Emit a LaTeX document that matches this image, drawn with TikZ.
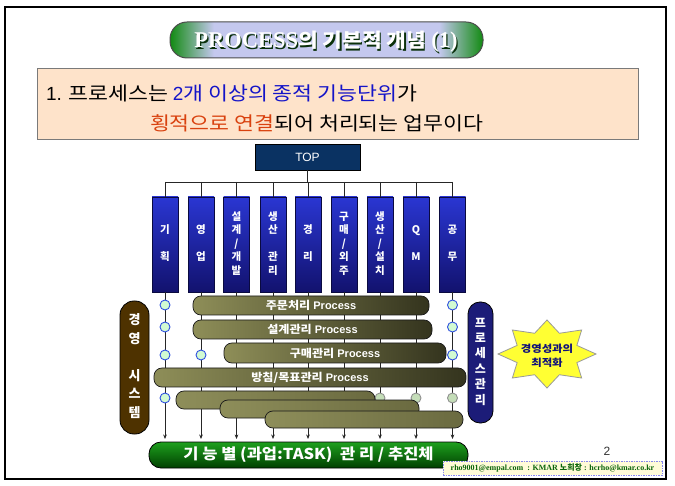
\documentclass[tikz,border=0pt]{standalone}
\usepackage{fontspec}
\usetikzlibrary{arrows.meta}
\setmainfont{Liberation Sans}
\newfontfamily\kr{Noto Sans CJK KR}
\newfontfamily\krw{Noto Sans CJK KR}[FakeStretch=1.14]
\newfontfamily\krs{Noto Sans CJK KR}[FakeStretch=1.1]
\newfontfamily\ar{Liberation Sans}
\newfontfamily\tm{Liberation Serif}
\definecolor{tgreen}{HTML}{128A12}
\definecolor{tlav}{HTML}{C4C8EE}
\definecolor{tshadow}{HTML}{0A300A}
\definecolor{peach}{HTML}{FEE3CA}
\definecolor{peachb}{HTML}{7A7A7A}
\definecolor{blueTxt}{HTML}{1414C8}
\definecolor{redTxt}{HTML}{D9420F}
\definecolor{topF}{HTML}{0A3262}
\definecolor{colT}{HTML}{2A36D2}
\definecolor{colD}{HTML}{12126E}
\definecolor{colB}{HTML}{0A0A40}
\definecolor{dotF}{HTML}{D2FAD2}
\definecolor{dotB}{HTML}{3050E0}
\definecolor{gdotF}{HTML}{C4DDB8}
\definecolor{gdotB}{HTML}{909090}
\definecolor{barL}{HTML}{8E8E58}
\definecolor{barD}{HTML}{34341E}
\definecolor{lowL}{HTML}{8E8E5A}
\definecolor{lowD}{HTML}{6A6A40}
\definecolor{sysD}{HTML}{4E3200}
\definecolor{sysM}{HTML}{B08A2E}
\definecolor{pmD}{HTML}{1C1C78}
\definecolor{pmM}{HTML}{7878E6}
\definecolor{starY}{HTML}{FFFF33}
\definecolor{starB}{HTML}{9A9A9A}
\definecolor{starT}{HTML}{10107A}
\definecolor{taskT}{HTML}{1EA01E}
\definecolor{taskM}{HTML}{007800}
\definecolor{taskD}{HTML}{004000}
\definecolor{footF}{HTML}{FFFBD8}
\definecolor{footB}{HTML}{8888EE}
\definecolor{footT}{HTML}{0A640A}
\pgfdeclarehorizontalshading{titleshade}{100bp}{color(0bp)=(tgreen); color(25bp)=(tgreen); color(32bp)=(tlav); color(68bp)=(tlav); color(75bp)=(tgreen); color(100bp)=(tgreen)}
\newcommand\vtxt[5]{\strut#1\\\strut#2\\\strut#3\\\strut#4\\\strut#5}
\newcommand\titletext{{\tm\bfseries\fontsize{22.5}{24}\selectfont PROCESS}{\krs\bfseries\fontsize{19.5}{24}\selectfont 의 기본적 개념 }{\tm\bfseries\fontsize{22.5}{24}\selectfont (1)}}
\begin{document}
\begin{tikzpicture}[x=1pt,y=-1pt,
  every node/.style={inner sep=0pt,outer sep=0pt},
  colbox/.style={draw=colB, line width=0.8pt, top color=colT, bottom color=colD, minimum width=26pt, minimum height=95pt, text=white, align=center, font=\kr\bfseries\fontsize{10.5}{13.5}\selectfont},
  wire/.style={draw=black!85, line width=0.7pt},
  arr/.style={wire, -{Stealth[length=4.5pt,width=3.6pt]}},
  dot/.style={circle, draw=dotB, fill=dotF, line width=0.9pt, minimum size=10pt},
  gdot/.style={circle, draw=gdotB, fill=gdotF, line width=0.9pt, minimum size=10pt},
  procbar/.style={draw=black!90, line width=0.7pt, rounded corners=8pt, left color=barL, right color=barD, text=white, font=\bfseries\fontsize{11}{12}\selectfont},
  lowbar/.style={draw=black!90, line width=0.7pt, rounded corners=8pt, left color=lowL, right color=lowD},
  sidepill/.style={draw=black, line width=0.8pt, text=white, align=center}
]
\path[use as bounding box, fill=white] (0,0) rectangle (675,486);
\draw[line width=1.5pt] (5,7) rectangle (666,479);

% title
\node[shading=titleshade, draw=black!70, line width=1pt, rounded corners=17pt, minimum width=313pt, minimum height=36pt] (title) at (326.5,40) {};
\node[anchor=base, text=tshadow] (titleS) at (327.3,49.3) {\titletext};
\node[anchor=base, text=white] (titleT) at (326,48) {\titletext};

% intro box
\draw[fill=peach, draw=peachb, line width=1pt] (37,69) rectangle (638,140);
\node[anchor=base west, font=\krw\fontsize{19}{22}\selectfont] (l1) at (46,100.5) {{\ar 1.} 프로세스는 \textcolor{blueTxt}{{\ar 2}개 이상의 종적 기능단위}가};
\node[anchor=base west, font=\krw\fontsize{19}{22}\selectfont] (l2) at (150,130.5) {\textcolor{redTxt}{횡적으로 연결}되어 처리되는 업무이다};

% TOP and columns
\node[draw=black, line width=0.8pt, fill=topF, minimum width=105pt, minimum height=26pt, text=white, font=\ar\fontsize{12}{14}\selectfont] (top) at (307.5,157) {TOP};
\node[colbox] (col1) at (165,244.5) {\vtxt{~}{기}{~}{획}{~}};
\node[colbox] (col2) at (201,244.5) {\vtxt{~}{영}{~}{업}{~}};
\node[colbox] (col3) at (236.5,244.5) {\vtxt{설}{계}{/}{개}{발}};
\node[colbox] (col4) at (273,244.5) {\vtxt{생}{산}{~}{관}{리}};
\node[colbox] (col5) at (308,244.5) {\vtxt{~}{경}{~}{리}{~}};
\node[colbox] (col6) at (344,244.5) {\vtxt{구}{매}{/}{외}{주}};
\node[colbox] (col7) at (380,244.5) {\vtxt{생}{산}{/}{설}{치}};
\node[colbox] (col8) at (416,244.5) {\vtxt{~}{Q}{~}{M}{~}};
\node[colbox] (col9) at (452.5,244.5) {\vtxt{~}{공}{~}{무}{~}};

\coordinate (busY) at (0,182);
\coordinate (arrY) at (0,439);
\draw[wire] (col1.north |- busY) -- (col9.north |- busY);
\draw[wire] (top.south) -- (top.south |- busY);
\foreach \i in {1,...,9} {
  \draw[wire] (col\i.north |- busY) -- (col\i.north);
  \draw[arr] (col\i.south) -- (col\i.south |- arrY);
}

% circles
\node[dot] (d11) at (col1.south |- 0,305) {};
\node[dot] (d12) at (col1.south |- 0,327) {};
\node[dot] (d13) at (col1.south |- 0,355) {};
\node[dot] (d14) at (col1.south |- 0,398) {};
\node[dot] (d23) at (col2.south |- 0,355) {};
\node[dot] (d91) at (col9.south |- 0,305) {};
\node[dot] (d92) at (col9.south |- 0,327) {};
\node[dot] (d93) at (col9.south |- 0,355) {};
\node[gdot] (g7) at (col7.south |- 0,398) {};
\node[gdot] (g8) at (col8.south |- 0,398) {};
\node[gdot] (g9) at (col9.south |- 0,398) {};

% process bars
\node[procbar, minimum width=236pt, minimum height=19pt] (p1) at (311,305.5) {{\krs 주문처리} Process};
\node[procbar, minimum width=239pt, minimum height=19pt] (p2) at (312.5,329.5) {{\krs 설계관리} Process};
\node[procbar, minimum width=222pt, minimum height=20pt] (p3) at (335,353) {{\krs 구매관리} Process};
\node[procbar, minimum width=312pt, minimum height=19pt] (p4) at (310,377.5) {{\krs 방침/목표관리} Process};
\node[lowbar, minimum width=199pt, minimum height=18pt] (p5) at (275.5,400) {};
\node[lowbar, minimum width=199pt, minimum height=18pt] (p6) at (319.5,409) {};
\node[lowbar, minimum width=198pt, minimum height=17pt] (p7) at (364,419.5) {};

% side pills
\node[sidepill, rounded corners=14pt, left color=sysD, middle color=sysM, right color=sysD, minimum width=29pt, minimum height=133pt, font=\kr\bfseries\fontsize{13}{18.5}\selectfont] (sys) at (134.5,367.5) {\strut 경\\\strut 영\\\strut ~\\\strut 시\\\strut 스\\\strut 템};
\node[sidepill, rounded corners=12pt, left color=pmD, middle color=pmM, right color=pmD, minimum width=25pt, minimum height=121pt, font=\kr\bfseries\fontsize{12}{15.4}\selectfont] (pm) at (480.5,362.5) {\strut 프\\\strut 로\\\strut 세\\\strut 스\\\strut 관\\\strut 리};

% star
\draw[fill=starY, draw=starB, line width=0.8pt] (596,354) \foreach \i [evaluate=\i as \r using {ifthenelse(mod(\i,2)==0,1,0.66)}] in {1,...,15} { -- ({547+49*\r*cos(\i*22.5)},{354+34*\r*sin(\i*22.5)}) } -- cycle;
\node[align=center, text=starT, font=\krw\bfseries\fontsize{10}{14.5}\selectfont] (perf) at (547,356) {경영성과의\\최적화};

% bottom task pill
\node[draw=black, line width=0.8pt, rounded corners=12pt, top color=taskT, middle color=taskM, bottom color=taskD, minimum width=319pt, minimum height=26pt, text=white, font=\krs\bfseries\fontsize{15}{17}\selectfont] (task) at (308.5,455) {기 능 별 (과업:TASK)\ \ 관 리 / 추진체};

% page number and footer
\node[text=black!80, font=\ar\fontsize{12}{14}\selectfont] (pg) at (607,451) {2};
\node[draw=footB, dash pattern=on 1.5pt off 1pt, line width=0.7pt, fill=footF, minimum width=219pt, minimum height=14pt, text=footT, font=\tm\bfseries\fontsize{8}{9}\selectfont] (foot) at (552.5,468) {rho9001@empal.com\ \ : KMAR {\kr 노희창} : hcrho@kmar.co.kr};
\end{tikzpicture}
\end{document}
